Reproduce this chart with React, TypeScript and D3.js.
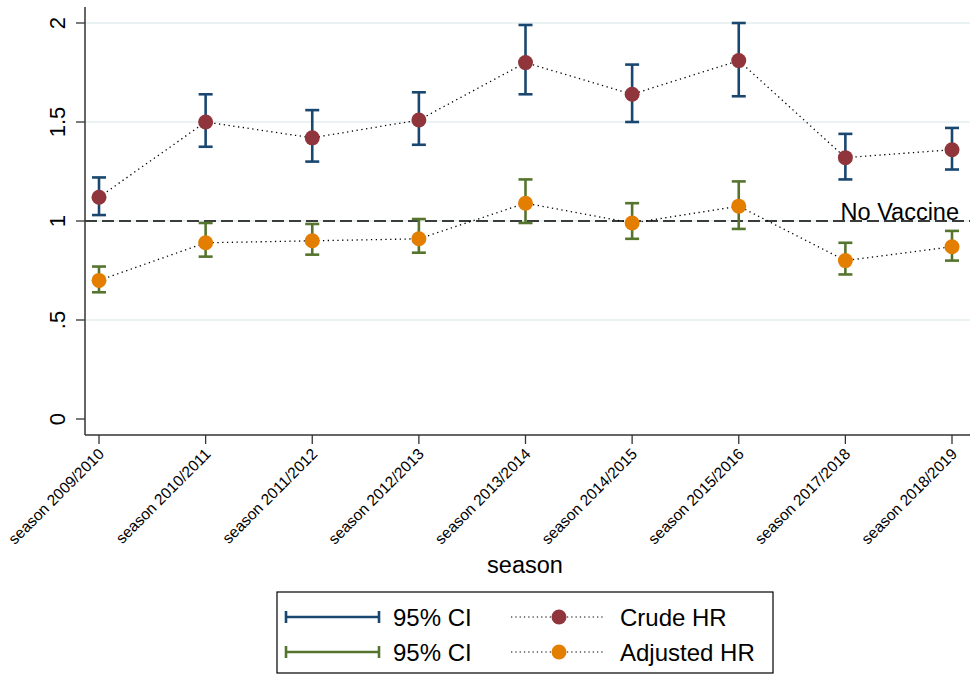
import * as d3 from 'd3';

const seasons = [
  'season 2009/2010',
  'season 2010/2011',
  'season 2011/2012',
  'season 2012/2013',
  'season 2013/2014',
  'season 2014/2015',
  'season 2015/2016',
  'season 2017/2018',
  'season 2018/2019',
];

const crudeHR = [1.12, 1.5, 1.42, 1.51, 1.8, 1.64, 1.81, 1.32, 1.36];
const crudeLow = [1.03, 1.375, 1.3, 1.385, 1.64, 1.5, 1.63, 1.21, 1.26];
const crudeHigh = [1.22, 1.64, 1.56, 1.65, 1.99, 1.79, 2.0, 1.44, 1.47];

const adjHR = [0.7, 0.89, 0.9, 0.91, 1.09, 0.99, 1.075, 0.8, 0.87];
const adjLow = [0.64, 0.82, 0.83, 0.84, 0.99, 0.91, 0.96, 0.73, 0.8];
const adjHigh = [0.77, 0.99, 0.985, 1.01, 1.21, 1.09, 1.2, 0.89, 0.95];

const yTicks = [0, 0.5, 1, 1.5, 2];
const yTickLabels = ['0', '.5', '1', '1.5', '2'];

const NAVY = '#1a476f';
const MAROON = '#90353b';
const GREEN = '#55752f';
const ORANGE = '#e37e00';
const GRID = '#eaf2f3';
const FONT = 'Liberation Sans, Arial, Helvetica, sans-serif';

const W = 972;
const H = 676;
const plot = { left: 85, right: 970, top: 7, bottom: 435 };

export default function App() {
  const x = d3.scalePoint<string>().domain(seasons).range([99, 952]).padding(0);
  const y = d3.scaleLinear().domain([0, 2]).range([419, 23]);

  const line = d3
    .line<number>()
    .x((_, i) => x(seasons[i]) as number)
    .y((d) => y(d));

  const capW = 7;

  const ciBars = (low: number[], high: number[], color: string, key: string) =>
    seasons.map((s, i) => {
      const cx = x(s) as number;
      return (
        <g key={key + i} stroke={color} strokeWidth={2.6} fill="none">
          <line x1={cx} x2={cx} y1={y(low[i])} y2={y(high[i])} />
          <line x1={cx - capW} x2={cx + capW} y1={y(low[i])} y2={y(low[i])} />
          <line x1={cx - capW} x2={cx + capW} y1={y(high[i])} y2={y(high[i])} />
        </g>
      );
    });

  const legendRows = [
    { ci: NAVY, marker: MAROON, label: 'Crude HR', cy: 617 },
    { ci: GREEN, marker: ORANGE, label: 'Adjusted HR', cy: 652 },
  ];

  return (
    <svg
      width={W}
      height={H}
      style={{ position: 'absolute', left: 0, top: 0, background: '#fff' }}
      fontFamily={FONT}
    >
      <rect x={0} y={0} width={W} height={H} fill="#fff" />

      {/* grid lines */}
      {yTicks.slice(1).map((t) => (
        <line key={'g' + t} x1={plot.left} x2={plot.right} y1={y(t)} y2={y(t)} stroke={GRID} strokeWidth={2} />
      ))}

      {/* reference line */}
      <line x1={plot.left} x2={plot.right} y1={y(1)} y2={y(1)} stroke="#000" strokeWidth={1.3} strokeDasharray="12 5" />
      <text x={959} y={y(1) - 1} textAnchor="end" fontSize={23.5} fill="#000">
        No Vaccine
      </text>

      {/* axes */}
      <line x1={plot.left} x2={plot.left} y1={plot.top} y2={plot.bottom} stroke="#333" strokeWidth={1.5} />
      <line x1={plot.left} x2={plot.right} y1={plot.bottom} y2={plot.bottom} stroke="#333" strokeWidth={1.5} />
      {yTicks.map((t, i) => (
        <g key={'yt' + t}>
          <line x1={76} x2={plot.left} y1={y(t)} y2={y(t)} stroke="#333" strokeWidth={1.3} />
          <text
            transform={`translate(65,${y(t)}) rotate(-90)`}
            textAnchor="middle"
            fontSize={22}
            fill="#000"
          >
            {yTickLabels[i]}
          </text>
        </g>
      ))}
      {seasons.map((s) => (
        <g key={'xt' + s}>
          <line x1={x(s)} x2={x(s)} y1={plot.bottom} y2={444} stroke="#333" strokeWidth={1.3} />
          <text
            transform={`translate(${(x(s) as number) + 6},${455}) rotate(-45)`}
            textAnchor="end"
            fontSize={15.5}
            fill="#000"
          >
            {s}
          </text>
        </g>
      ))}
      <text x={525} y={573} textAnchor="middle" fontSize={23.5} fill="#000">
        season
      </text>

      {/* CI bars */}
      {ciBars(crudeLow, crudeHigh, NAVY, 'c')}
      {ciBars(adjLow, adjHigh, GREEN, 'a')}

      {/* dotted connecting lines */}
      <path d={line(crudeHR) || ''} fill="none" stroke="#000" strokeWidth={1.3} strokeDasharray="1.3 3.5" />
      <path d={line(adjHR) || ''} fill="none" stroke="#000" strokeWidth={1.3} strokeDasharray="1.3 3.5" />

      {/* markers */}
      {crudeHR.map((v, i) => (
        <circle key={'cm' + i} cx={x(seasons[i])} cy={y(v)} r={7.5} fill={MAROON} />
      ))}
      {adjHR.map((v, i) => (
        <circle key={'am' + i} cx={x(seasons[i])} cy={y(v)} r={7.5} fill={ORANGE} />
      ))}

      {/* legend */}
      <rect x={277} y={592} width={496} height={81} fill="#fff" stroke="#000" strokeWidth={1.2} />
      {legendRows.map((r) => (
        <g key={r.label}>
          <g stroke={r.ci} strokeWidth={2.6}>
            <line x1={286} x2={379} y1={r.cy} y2={r.cy} />
            <line x1={286} x2={286} y1={r.cy - 6} y2={r.cy + 6} />
            <line x1={379} x2={379} y1={r.cy - 6} y2={r.cy + 6} />
          </g>
          <text x={393} y={r.cy + 9} fontSize={24} fill="#000">
            95% CI
          </text>
          <line x1={511} x2={605} y1={r.cy} y2={r.cy} stroke="#000" strokeWidth={1.2} strokeDasharray="1.3 3" />
          <circle cx={559} cy={r.cy} r={7.5} fill={r.marker} />
          <text x={620} y={r.cy + 9} fontSize={24} fill="#000">
            {r.label}
          </text>
        </g>
      ))}
    </svg>
  );
}
